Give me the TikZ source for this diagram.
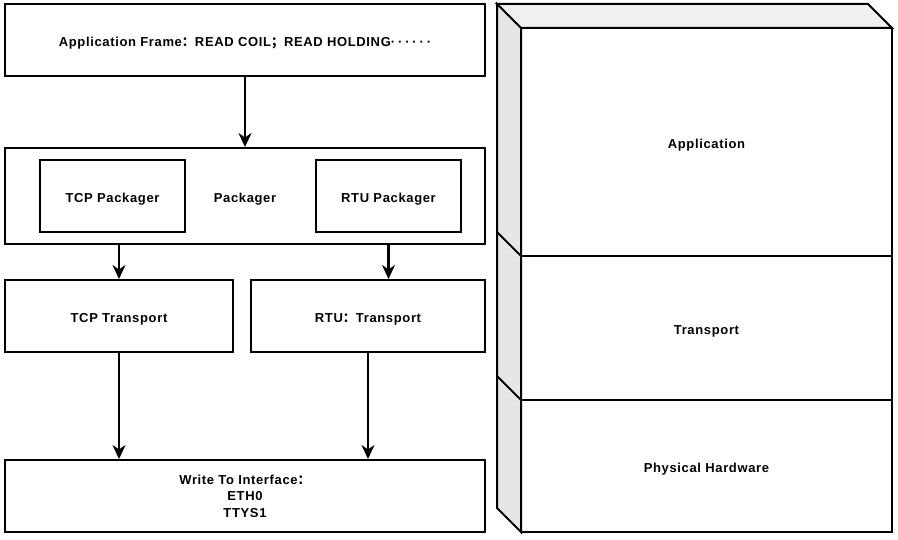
\documentclass[tikz,border=0pt]{standalone}
\usepackage{fontspec}
\setmainfont{Liberation Sans}[LetterSpace=5]
\newfontfamily\cjk{Noto Sans CJK SC}
\usepackage{tikz}
\usetikzlibrary{arrows.meta}
\definecolor{topface}{RGB}{240,240,240}
\definecolor{sideface}{RGB}{230,230,230}
\newcommand{\fw}[1]{{\cjk #1}}
\newcommand{\moredots}{{\addfontfeature{LetterSpace=22}······}}

\begin{document}
\begin{tikzpicture}[x=1pt,y=-1pt,line width=2pt,
    font=\fontsize{13}{16.5}\selectfont\bfseries,
    box/.style={draw,inner sep=0pt,align=center,text height=13pt,text depth=0pt}]
  \useasboundingbox (0,0) rectangle (898,540);
  % left column
  \node[box,minimum width=480,minimum height=72] (app) at (245,40)
    {Application Frame\fw{：}READ COIL\fw{；}READ HOLDING\moredots};
  \node[box,minimum width=480,minimum height=96] (pk) at (245,196) {Packager};
  \node[box,minimum width=145,minimum height=72] (tcpp) at (112.5,196) {TCP Packager};
  \node[box,minimum width=145,minimum height=72] (rtup) at (388.5,196) {RTU Packager};
  \node[box,minimum width=228,minimum height=72] (tcpt) at (119,316) {TCP Transport};
  \node[box,minimum width=234,minimum height=72] (rtut) at (368,316) {RTU\fw{：}Transport};
  \node[draw,inner sep=0pt,align=center,minimum width=480,minimum height=72] (wr) at (245,496)
    {Write To Interface\fw{：}\\ETH0\\TTYS1};
  \path[line width=2.2pt,-{Stealth[length=14pt,width=13pt,inset=4.5pt]}]
    (app) edge (pk)
    (pk.south -| tcpt.north) edge (tcpt.north)
    (pk.south -| rtup.south) edge (rtup |- rtut.north)
    (tcpt) edge (tcpt |- wr.north)
    (rtut) edge (rtut |- wr.north);
  % layer stack
  \filldraw[fill=topface] (497,4) -- (868,4) -- (892,28) -- (521,28) -- cycle;
  \filldraw[fill=sideface] (497,4) -- (521,28) -- (521,532) -- (497,508) -- cycle;
  \draw (497,232) -- (521,256) (497,376) -- (521,400);
  \node[box,minimum width=371,minimum height=228] (la) at (706.5,142) {Application};
  \node[box,minimum width=371,minimum height=144] (lt) at (706.5,328) {Transport};
  \node[box,minimum width=371,minimum height=132] (lh) at (706.5,466) {Physical Hardware};
\end{tikzpicture}
\end{document}
